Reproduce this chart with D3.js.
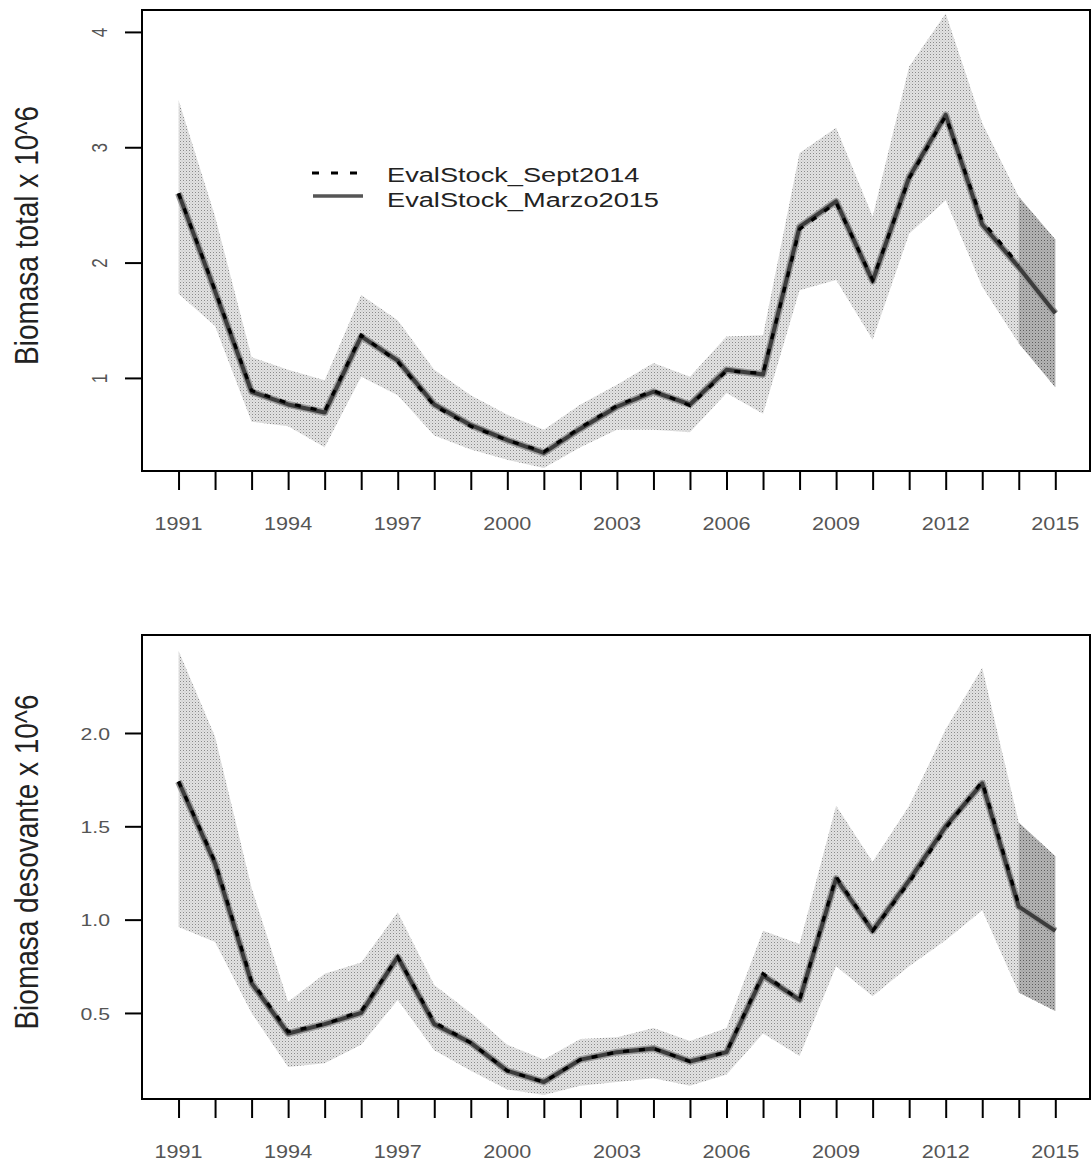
<!DOCTYPE html>
<html>
<head>
<meta charset="utf-8">
<script src="https://cdn.jsdelivr.net/npm/d3@7/dist/d3.min.js"></script>
<style>
  body { margin: 0; background: #fff; }
  svg { display: block; font-family: 'Liberation Sans', Arial, sans-serif; }
</style>
</head>
<body>
<svg width="1091" height="1164"></svg>
<script>
const years = [1991, 1992, 1993, 1994, 1995, 1996, 1997, 1998, 1999, 2000, 2001, 2002, 2003,
  2004, 2005, 2006, 2007, 2008, 2009, 2010, 2011, 2012, 2013, 2014, 2015]
const yearLabels = [1991, 1994, 1997, 2000, 2003, 2006, 2009, 2012, 2015]
const seriesNames = ['EvalStock_Sept2014', 'EvalStock_Marzo2015']

// biomasa total (x 10^6)
const totalMarzo2015 = [2.60, 1.75, 0.88, 0.77, 0.70, 1.36, 1.15, 0.77, 0.59, 0.46, 0.35, 0.56, 0.75,
  0.88, 0.77, 1.07, 1.03, 2.31, 2.53, 1.84, 2.74, 3.28, 2.33, 1.96, 1.56]
const totalSept2014 = [2.60, 1.76, 0.89, 0.78, 0.71, 1.37, 1.14, 0.76, 0.58, 0.46, 0.36, 0.57, 0.76,
  0.89, 0.76, 1.06, 1.04, 2.29, 2.52, 1.85, 2.73, 3.27, 2.36, 1.98]
const totalLo = [1.73, 1.45, 0.62, 0.58, 0.40, 1.01, 0.85, 0.50, 0.38, 0.29, 0.22, 0.40, 0.55,
  0.55, 0.53, 0.87, 0.69, 1.76, 1.85, 1.33, 2.25, 2.54, 1.79, 1.30, 0.92]
const totalHi = [3.41, 2.40, 1.18, 1.07, 0.98, 1.72, 1.50, 1.07, 0.85, 0.68, 0.55, 0.77, 0.94,
  1.13, 1.01, 1.36, 1.37, 2.95, 3.17, 2.40, 3.70, 4.16, 3.21, 2.57, 2.20]
const totalTicks = [1, 2, 3, 4]

// biomasa desovante (x 10^6)
const spawnMarzo2015 = [1.74, 1.30, 0.66, 0.39, 0.44, 0.50, 0.80, 0.44, 0.34, 0.19, 0.13, 0.25, 0.29,
  0.31, 0.24, 0.29, 0.70, 0.57, 1.22, 0.94, 1.21, 1.50, 1.73, 1.07, 0.94]
const spawnSept2014 = [1.74, 1.31, 0.67, 0.40, 0.44, 0.51, 0.80, 0.45, 0.34, 0.19, 0.13, 0.25, 0.29,
  0.31, 0.24, 0.29, 0.71, 0.57, 1.23, 0.94, 1.20, 1.49, 1.74, 1.08]
const spawnLo = [0.96, 0.88, 0.50, 0.21, 0.23, 0.33, 0.57, 0.30, 0.19, 0.09, 0.06, 0.11, 0.13,
  0.15, 0.11, 0.17, 0.39, 0.27, 0.75, 0.59, 0.75, 0.89, 1.05, 0.61, 0.51]
const spawnHi = [2.44, 1.98, 1.17, 0.56, 0.71, 0.77, 1.04, 0.65, 0.50, 0.33, 0.25, 0.36, 0.37,
  0.42, 0.35, 0.42, 0.94, 0.87, 1.61, 1.31, 1.61, 2.02, 2.35, 1.52, 1.34]
const spawnTicks = [0.5, 1.0, 1.5, 2.0]

// years drawn as projection (darker band)
const projYears = [2014, 2015]

const svg = d3.select('svg')
const left = 142
const right = 1090

const x = d3.scaleLinear().domain([1990.0, 2015.95]).range([left, right])

// stipple patterns for the bands
const defs = svg.append('defs')
const makePattern = (id, bg, dot) => {
  const p = defs.append('pattern')
    .attr('id', id)
    .attr('width', 3).attr('height', 3)
    .attr('patternUnits', 'userSpaceOnUse')
  p.append('rect').attr('width', 3).attr('height', 3).attr('fill', bg)
  p.append('rect').attr('x', 0).attr('y', 0).attr('width', 1).attr('height', 1).attr('fill', dot)
  p.append('rect').attr('x', 1.5).attr('y', 1.5).attr('width', 1).attr('height', 1).attr('fill', dot).attr('opacity', 0.4)
}
makePattern('stipple', '#e2e2e2', '#8a8a8a')
makePattern('stippleDark', '#ababab', '#555')

const drawPanel = (cfg) => {
  const y = d3.scaleLinear().domain(cfg.yDomain).range([cfg.bottom, cfg.top])
  const g = svg.append('g')

  const idx = years.map((d, i) => i)
  const band = d3.area()
    .x(i => x(years[i]))
    .y0(i => y(cfg.lo[i]))
    .y1(i => y(cfg.hi[i]))

  g.append('path')
    .attr('d', band(idx))
    .attr('fill', 'url(#stipple)')

  const projIdx = idx.filter(i => projYears.includes(years[i]))
  g.append('path')
    .attr('d', band(projIdx))
    .attr('fill', 'url(#stippleDark)')
    .attr('opacity', 0.85)

  const line = d3.line()
    .x((d, i) => x(years[i]))
    .y(d => y(d))

  // soft gray halo under the lines
  g.append('path')
    .attr('d', line(cfg.marzo))
    .attr('fill', 'none')
    .attr('stroke', '#9a9a9a')
    .attr('stroke-width', 7)
    .attr('stroke-linejoin', 'round')

  g.append('path')
    .attr('d', line(cfg.marzo))
    .attr('fill', 'none')
    .attr('stroke', '#3c3c3c')
    .attr('stroke-width', 4)
    .attr('stroke-linejoin', 'round')

  g.append('path')
    .attr('d', line(cfg.sept))
    .attr('fill', 'none')
    .attr('stroke', '#000')
    .attr('stroke-width', 3.2)
    .attr('stroke-dasharray', '6 10')

  // box
  g.append('rect')
    .attr('x', left).attr('y', cfg.top)
    .attr('width', right - left).attr('height', cfg.bottom - cfg.top)
    .attr('fill', 'none')
    .attr('stroke', '#000')
    .attr('stroke-width', 2)

  // x axis
  const xAxis = g.append('g')
    .attr('transform', `translate(0,${cfg.bottom})`)
    .call(d3.axisBottom(x).tickValues(years).tickSize(19).tickSizeOuter(0).tickFormat(''))
  xAxis.select('.domain').remove()
  xAxis.selectAll('.tick line').attr('stroke', '#000').attr('stroke-width', 2)

  xAxis.selectAll('.lab')
    .data(yearLabels)
    .join('text')
    .attr('class', 'lab')
    .attr('transform', d => `translate(${x(d)},59) scale(1.2,1)`)
    .attr('text-anchor', 'middle')
    .attr('font-size', 18)
    .attr('fill', '#555')
    .text(d => d)

  // y axis
  const yAxis = g.append('g')
    .attr('transform', `translate(${left},0)`)
    .call(d3.axisLeft(y).tickValues(cfg.ticks).tickSize(17).tickSizeOuter(0).tickFormat(''))
  yAxis.select('.domain').remove()
  yAxis.selectAll('.tick line').attr('stroke', '#000').attr('stroke-width', 2)

  yAxis.selectAll('.tick')
    .append('text')
    .attr('transform', cfg.rotateY ? 'translate(-35,0) scale(1.25,1) rotate(-90)' : 'translate(-32,0) scale(1.25,1)')
    .attr('text-anchor', cfg.rotateY ? 'middle' : 'end')
    .attr('dy', cfg.rotateY ? 0 : '0.36em')
    .attr('font-size', 17)
    .attr('fill', '#555')
    .text(cfg.fmt)

  // y title
  g.append('text')
    .attr('transform', `translate(38,${(cfg.top + cfg.bottom) / 2 - 5}) scale(1.2,1) rotate(-90)`)
    .attr('text-anchor', 'middle')
    .attr('font-size', 28)
    .attr('fill', '#222')
    .text(cfg.title)

  return { g, y }
}

const topPanel = drawPanel({
  top: 10, bottom: 471, yDomain: [0.193, 4.19],
  ticks: totalTicks, fmt: d3.format('d'), rotateY: true,
  title: 'Biomasa total x 10^6',
  lo: totalLo, hi: totalHi, marzo: totalMarzo2015, sept: totalSept2014
})

drawPanel({
  top: 635, bottom: 1099, yDomain: [0.039, 2.525],
  ticks: spawnTicks, fmt: d3.format('.1f'), rotateY: false,
  title: 'Biomasa desovante x 10^6',
  lo: spawnLo, hi: spawnHi, marzo: spawnMarzo2015, sept: spawnSept2014
})

// legend in the top panel
const legend = topPanel.g.append('g').attr('transform', 'translate(312,173)')
legend.append('line')
  .attr('x1', 0).attr('x2', 46).attr('y1', 0).attr('y2', 0)
  .attr('stroke', '#000').attr('stroke-width', 3).attr('stroke-dasharray', '7 12')
legend.append('line')
  .attr('x1', 1).attr('x2', 51).attr('y1', 23).attr('y2', 23)
  .attr('stroke', '#555').attr('stroke-width', 3.5)
legend.selectAll('text')
  .data(seriesNames)
  .join('text')
  .attr('transform', (d, i) => `translate(75,${9 + i * 25}) scale(1.36,1)`)
  .attr('font-size', 20)
  .attr('fill', '#222')
  .text(d => d)
</script>
</body>
</html>
